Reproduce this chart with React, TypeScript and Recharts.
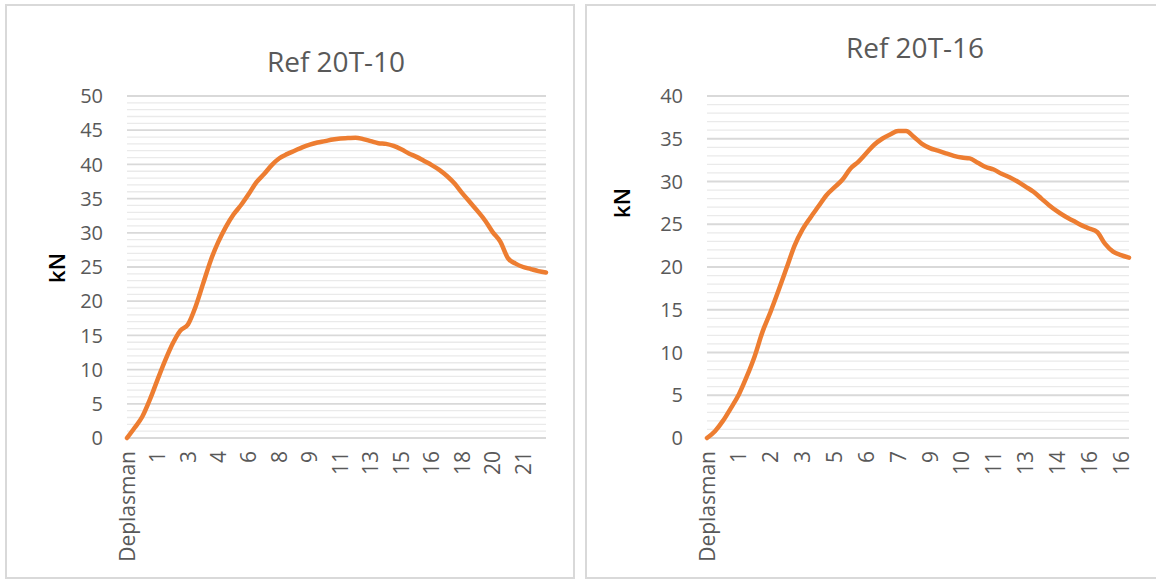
import { LineChart, Line, XAxis, YAxis, CartesianGrid, ReferenceLine } from "recharts";

// displacement (mm) per reading, first row is the header cell
const leftDisp: (string | number)[] = [
  "Deplasman", 0.3, 0.6, 0.9, 1.2, 1.6, 2.0, 2.4, 2.8, 3.1, 3.4, 3.7, 4.1, 4.5, 4.9, 5.4,
  5.8, 6.3, 6.8, 7.2, 7.6, 8.0, 8.3, 8.7, 9.1, 9.5, 9.9, 10.3, 10.8, 11.3, 11.8, 12.3,
  12.7, 13.2, 13.7, 14.2, 14.6, 15.0, 15.3, 15.7, 16.1, 16.6, 17.1, 17.5, 17.9, 18.4,
  18.9, 19.4, 19.8, 20.2, 20.5, 20.8, 21.2, 21.6, 22.0, 22.4,
];
const leftLoad = [
  0, 1.5, 3.1, 5.6, 8.5, 11.3, 13.8, 15.7, 16.6, 19.2, 22.6, 26.0, 28.7, 30.9, 32.7, 34.1,
  35.7, 37.4, 38.6, 39.9, 40.9, 41.5, 42.0, 42.5, 42.9, 43.2, 43.4, 43.65, 43.8, 43.85, 43.9,
  43.7, 43.4, 43.1, 43.0, 42.7, 42.2, 41.6, 41.1, 40.5, 39.9, 39.2, 38.3, 37.2, 35.8, 34.5,
  33.2, 31.8, 30.1, 28.7, 26.3, 25.5, 25.0, 24.7, 24.4, 24.2,
];

const rightDisp: (string | number)[] = [
  "Deplasman", 0.3, 0.5, 0.8, 1.0, 1.3, 1.5, 1.7, 2.0, 2.2, 2.5, 2.8, 3.1, 3.4, 3.8, 4.2,
  4.6, 4.9, 5.2, 5.5, 5.8, 6.1, 6.4, 6.7, 7.0, 7.4, 7.8, 8.2, 8.6, 8.9, 9.2, 9.5, 9.8,
  10.1, 10.4, 10.7, 11.0, 11.4, 11.8, 12.2, 12.6, 13.0, 13.4, 13.7, 14.0, 14.4, 14.8,
  15.2, 15.6, 15.8, 16.0, 16.2, 16.4, 16.6,
];
const rightLoad = [
  0, 0.8, 2.0, 3.5, 5.1, 7.2, 9.6, 12.5, 14.8, 17.3, 19.9, 22.5, 24.4, 25.8, 27.1, 28.4,
  29.3, 30.2, 31.5, 32.3, 33.3, 34.3, 35.0, 35.5, 35.9, 35.9, 35.2, 34.4, 33.9, 33.6, 33.3,
  33.0, 32.8, 32.7, 32.2, 31.7, 31.4, 30.9, 30.5, 30.0, 29.4, 28.8, 28.0, 27.2, 26.5, 25.9,
  25.4, 24.9, 24.5, 24.1, 22.7, 21.8, 21.4, 21.1,
];

const leftTicks = [0, 5, 10, 15, 20, 25, 30, 35, 40, 45, 50];
const rightTicks = [0, 5, 10, 15, 20, 25, 30, 35, 40];
const leftMinor = [
  1, 2, 3, 4, 6, 7, 8, 9, 11, 12, 13, 14, 16, 17, 18, 19, 21, 22, 23, 24, 26, 27, 28, 29,
  31, 32, 33, 34, 36, 37, 38, 39, 41, 42, 43, 44, 46, 47, 48, 49,
];
const rightMinor = leftMinor.filter((v) => v < 40);

const FONT = "'Open Sans', sans-serif";
const GRAY = "#595959";

const XTick = (props: any) => {
  const { x, y, payload } = props;
  const v = payload.value;
  const label = typeof v === "number" ? Math.round(v) : v;
  return (
    <g transform={`translate(${x},${y})`}>
      <text
        transform="rotate(-90)"
        textAnchor="end"
        dy="0.36em"
        fill={GRAY}
        fontSize={21}
        fontFamily={FONT}
      >
        {label}
      </text>
    </g>
  );
};

interface PanelProps {
  left: number;
  width: number;
  rightMargin: number;
  title: string;
  titleX: number;
  titleY: number;
  kNX: number;
  kNY: number;
  disp: (string | number)[];
  load: number[];
  ticks: number[];
  minor: number[];
}

const Panel = (p: PanelProps) => {
  const data = p.disp.map((d, i) => ({ disp: d, load: p.load[i] }));
  const max = p.ticks[p.ticks.length - 1];
  return (
    <>
      <div
        style={{
          position: "absolute",
          left: p.left,
          top: 4,
          width: p.width,
          height: 575,
          border: "2px solid #d9d9d9",
          boxSizing: "border-box",
        }}
      />
      <div
        style={{
          position: "absolute",
          left: p.titleX,
          top: p.titleY,
          transform: "translate(-50%, -50%)",
          fontFamily: FONT,
          fontSize: 28,
          color: GRAY,
          whiteSpace: "nowrap",
        }}
      >
        {p.title}
      </div>
      <div
        style={{
          position: "absolute",
          left: p.kNX,
          top: p.kNY,
          transform: "translate(-50%, -50%) rotate(-90deg)",
          fontFamily: FONT,
          fontSize: 22,
          fontWeight: 600,
          color: "#000",
        }}
      >
        kN
      </div>
      <div style={{ position: "absolute", left: p.left, top: 4 }}>
        <LineChart
          width={p.width}
          height={575}
          data={data}
          margin={{ top: 92, right: p.rightMargin, left: 0, bottom: 0 }}
        >
          {p.minor.map((v) => (
            <ReferenceLine key={v} y={v} stroke="#eaeaea" strokeWidth={1.3} />
          ))}
          <CartesianGrid vertical={false} stroke="#d9d9d9" strokeWidth={1.8} />
          <XAxis
            dataKey="disp"
            interval={3}
            height={141}
            tickSize={0}
            tickMargin={13}
            axisLine={false}
            tickLine={false}
            tick={<XTick />}
          />
          <YAxis
            width={122}
            domain={[0, max]}
            ticks={p.ticks}
            tickSize={0}
            tickMargin={24}
            axisLine={false}
            tickLine={false}
            tick={{ fill: GRAY, fontSize: 20, fontFamily: FONT }}
          />
          <Line
            type="monotone"
            dataKey="load"
            stroke="#ED7D31"
            strokeWidth={4.5}
            strokeLinecap="round"
            strokeLinejoin="round"
            dot={false}
            activeDot={false}
            isAnimationActive={false}
          />
        </LineChart>
      </div>
    </>
  );
};

export default function App() {
  return (
    <div
      style={{
        position: "absolute",
        left: 0,
        top: 0,
        width: 1156,
        height: 581,
        background: "#fff",
        overflow: "hidden",
      }}
    >
      <Panel
        left={5}
        width={570}
        rightMargin={29}
        title="Ref 20T-10"
        titleX={336}
        titleY={61}
        kNX={56}
        kNY={268}
        disp={leftDisp}
        load={leftLoad}
        ticks={leftTicks}
        minor={leftMinor}
      />
      <Panel
        left={585}
        width={573}
        rightMargin={29}
        title="Ref 20T-16"
        titleX={915}
        titleY={47}
        kNX={621}
        kNY={203}
        disp={rightDisp}
        load={rightLoad}
        ticks={rightTicks}
        minor={rightMinor}
      />
    </div>
  );
}
